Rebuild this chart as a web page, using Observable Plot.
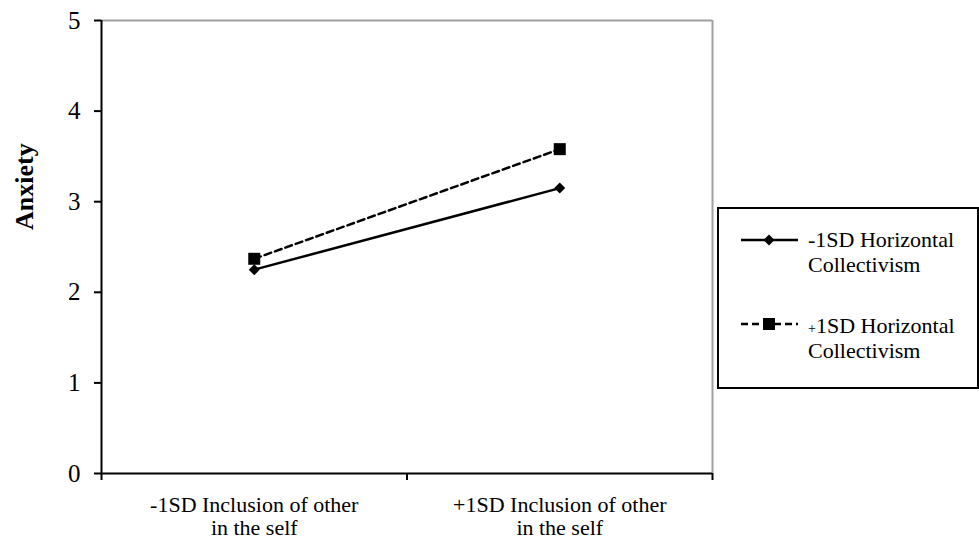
<!DOCTYPE html>
<html>
<head>
<meta charset="utf-8">
<script src="https://cdn.jsdelivr.net/npm/d3@7"></script>
<script src="https://cdn.jsdelivr.net/npm/@observablehq/plot@0.6"></script>
<style>
  html, body { margin: 0; padding: 0; background: #fff; }
  #wrap { position: relative; width: 979px; height: 540px; font-family: "Liberation Serif", "Times New Roman", Times, serif; }
  #wrap svg text, #wrap svg tspan { font-family: "Liberation Serif", "Times New Roman", Times, serif; }
  #legend { position: absolute; left: 717px; top: 207px; width: 258px; height: 178px; border: 2px solid #000; background: #fff; }
  #legend svg { position: absolute; left: 0; top: 0; }
</style>
</head>
<body>
<div id="wrap"></div>
<script>
// Data
const categories = ["-1SD Inclusion of other\nin the self", "+1SD Inclusion of other\nin the self"];
const categoryPos = [0.5, 1.5];
const seriesNames = ["-1SD Horizontal Collectivism", "+1SD Horizontal Collectivism"];
const lowHC = [2.25, 3.15];
const highHC = [2.37, 3.58];
const yTicks = [0, 1, 2, 3, 4, 5];
const xTicks = [0, 1, 2];

const data = [
  ...categoryPos.map((x, i) => ({x, y: lowHC[i], s: seriesNames[0]})),
  ...categoryPos.map((x, i) => ({x, y: highHC[i], s: seriesNames[1]}))
];
const low = data.filter(d => d.s === seriesNames[0]);
const high = data.filter(d => d.s === seriesNames[1]);

const diamond = { draw(ctx, size) { const h = Math.sqrt(size / Math.PI); ctx.moveTo(0, -h); ctx.lineTo(h, 0); ctx.lineTo(0, h); ctx.lineTo(-h, 0); ctx.closePath(); } };
const square = { draw(ctx, size) { const h = Math.sqrt(size / Math.PI); ctx.rect(-h, -h, 2 * h, 2 * h); } };

const font = '"Liberation Serif", "Times New Roman", Times, serif';

const chart = Plot.plot({
  width: 979,
  height: 540,
  marginLeft: 101,
  marginRight: 267,
  marginTop: 20,
  marginBottom: 67,
  style: `font-family: ${font}; background: #fff; color: #000;`,
  x: { domain: [0, 2] },
  y: { domain: [0, 5] },
  marks: [
    Plot.ruleY([5], { stroke: "#a0a0a0", strokeWidth: 2 }),
    Plot.ruleX([2], { stroke: "#a0a0a0", strokeWidth: 2 }),
    Plot.axisY({ ticks: yTicks, tickSize: 7, tickPadding: 14, fontSize: 25, strokeWidth: 2, tickFormat: d => String(d), label: null, fontFamily: font }),
    Plot.axisX({ ticks: xTicks, tickSize: 7, tickFormat: () => "", strokeWidth: 2, label: null }),
    Plot.ruleX([0], { stroke: "#000", strokeWidth: 2 }),
    Plot.ruleY([0], { stroke: "#000", strokeWidth: 2 }),
    Plot.text(categories, { x: (d, i) => categoryPos[i], y: () => 0, text: d => d, dy: 22, lineAnchor: "top", lineHeight: 1.05, fontSize: 22, fill: "#000", fontFamily: font }),
    Plot.text(["Anxiety"], { frameAnchor: "left", dx: -77, dy: -17, rotate: -90, fontSize: 26, fontWeight: "bold", fill: "#000", fontFamily: font }),
    Plot.line(low, { x: "x", y: "y", stroke: "#000", strokeWidth: 2.5 }),
    Plot.line(high, { x: "x", y: "y", stroke: "#000", strokeWidth: 2.5, strokeDasharray: "7,4" }),
    Plot.dot(low, { x: "x", y: "y", symbol: diamond, r: 5.5, fill: "#000", stroke: "none" }),
    Plot.dot(high, { x: "x", y: "y", symbol: square, r: 6, fill: "#000", stroke: "none" })
  ]
});

const wrap = document.getElementById("wrap");
wrap.appendChild(chart);

// Legend
const legend = document.createElement("div");
legend.id = "legend";
legend.innerHTML = `
<svg width="258" height="178" xmlns="http://www.w3.org/2000/svg" font-size="22" style="font-family: 'Liberation Serif', 'Times New Roman', Times, serif;">
  <line x1="22" x2="79" y1="31" y2="31" stroke="#000" stroke-width="2.5"/>
  <path d="M50,25.5 L55.5,31 L50,36.5 L44.5,31 Z" fill="#000"/>
  <text x="89" y="38">-1SD Horizontal</text>
  <text x="89" y="63">Collectivism</text>
  <line x1="22" x2="79" y1="115" y2="115" stroke="#000" stroke-width="2.5" stroke-dasharray="7,4"/>
  <rect x="44" y="109" width="12" height="12" fill="#000"/>
  <text x="89" y="124"><tspan font-size="14">+</tspan>1SD Horizontal</text>
  <text x="89" y="149">Collectivism</text>
</svg>`;
wrap.appendChild(legend);
</script>
</body>
</html>
